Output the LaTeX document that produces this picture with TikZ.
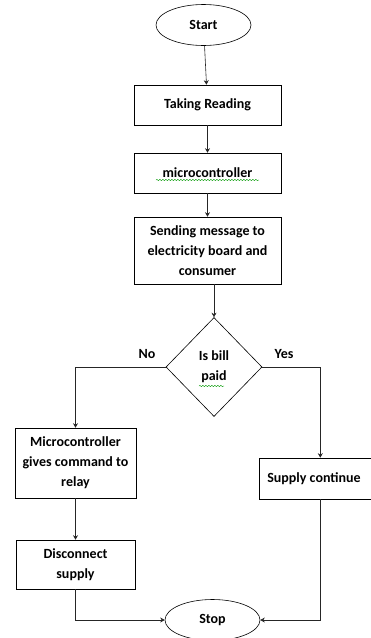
\documentclass[tikz,border=0pt]{standalone}
\usepackage{fontspec}
\setmainfont{Carlito}
\usetikzlibrary{shapes.geometric,positioning,decorations.pathmorphing,arrows.meta}
\tikzset{block/.style = {draw, fill=white, semithick, rectangle, minimum height=40pt, minimum width=147pt, align=center, font=\fontsize{14}{20}\selectfont\bfseries},
         term/.style = {draw, fill=white, semithick, ellipse, minimum width=95pt, minimum height=41pt, font=\fontsize{14}{20}\selectfont\bfseries},
         decision/.style = {draw, fill=white, semithick, diamond, minimum width=96pt, minimum height=99pt, inner sep=0pt, align=center, font=\fontsize{14}{20}\selectfont\bfseries},
         label/.style = {font=\fontsize{14}{20}\selectfont\bfseries},
         line/.style = {-{Stealth[length=4.5pt,width=5pt]}, semithick, black!85},
         squiggle/.style = {green!60!black, thin, decorate, decoration={snake, amplitude=0.7pt, segment length=3pt}}}

\begin{document}
\begin{tikzpicture}[x=1pt,y=-1pt]
        \useasboundingbox(0,0)rectangle(370,638);

        \node[term](start)at(203.5,25){Start};
        \node[block](read)at(207.5,105){Taking Reading};
        \node[block](mcu)at(207.5,173){microcontroller};
        \node[block, minimum height=67pt](send)at(207.5,250.5){Sending message to\\electricity board and\\consumer};
        \draw[line](start)--(read);
        \draw[line](read)--(mcu);
        \draw[line](mcu)--(send);

        \node[decision](bill)at(214,367){Is bill\\paid};
        \draw[line](send.south -| bill.north)--(bill.north);

        \node[block, minimum width=121pt, minimum height=70pt](relay)at(75.5,463){Microcontroller\\gives command to\\relay};
        \node[block, minimum width=119pt, minimum height=49pt](disc)at(75.5,564.5){Disconnect\\supply};
        \node[block, minimum width=0pt, minimum height=41pt, inner xsep=8pt, text width=106pt, align=flush left, anchor=west](cont)at(259,478.5){Supply continue};
        \node[term](stop)at(212.5,620){Stop};

        \node[label](no)at(147,354){No};
        \node[label](yes)at(284,354){Yes};

        \draw[line](bill.west)-|(relay.north);
        \draw[line](bill.east)-|(cont.north);
        \draw[line](relay)--(disc);
        \draw[line](disc.south)|-(stop.west);
        \draw[line](cont.south)|-(stop.east);

        % spell check marks
        \draw[squiggle](156,180)--(259,180);
        \draw[squiggle](199,386)--(224,386);
    \end{tikzpicture}
\end{document}
